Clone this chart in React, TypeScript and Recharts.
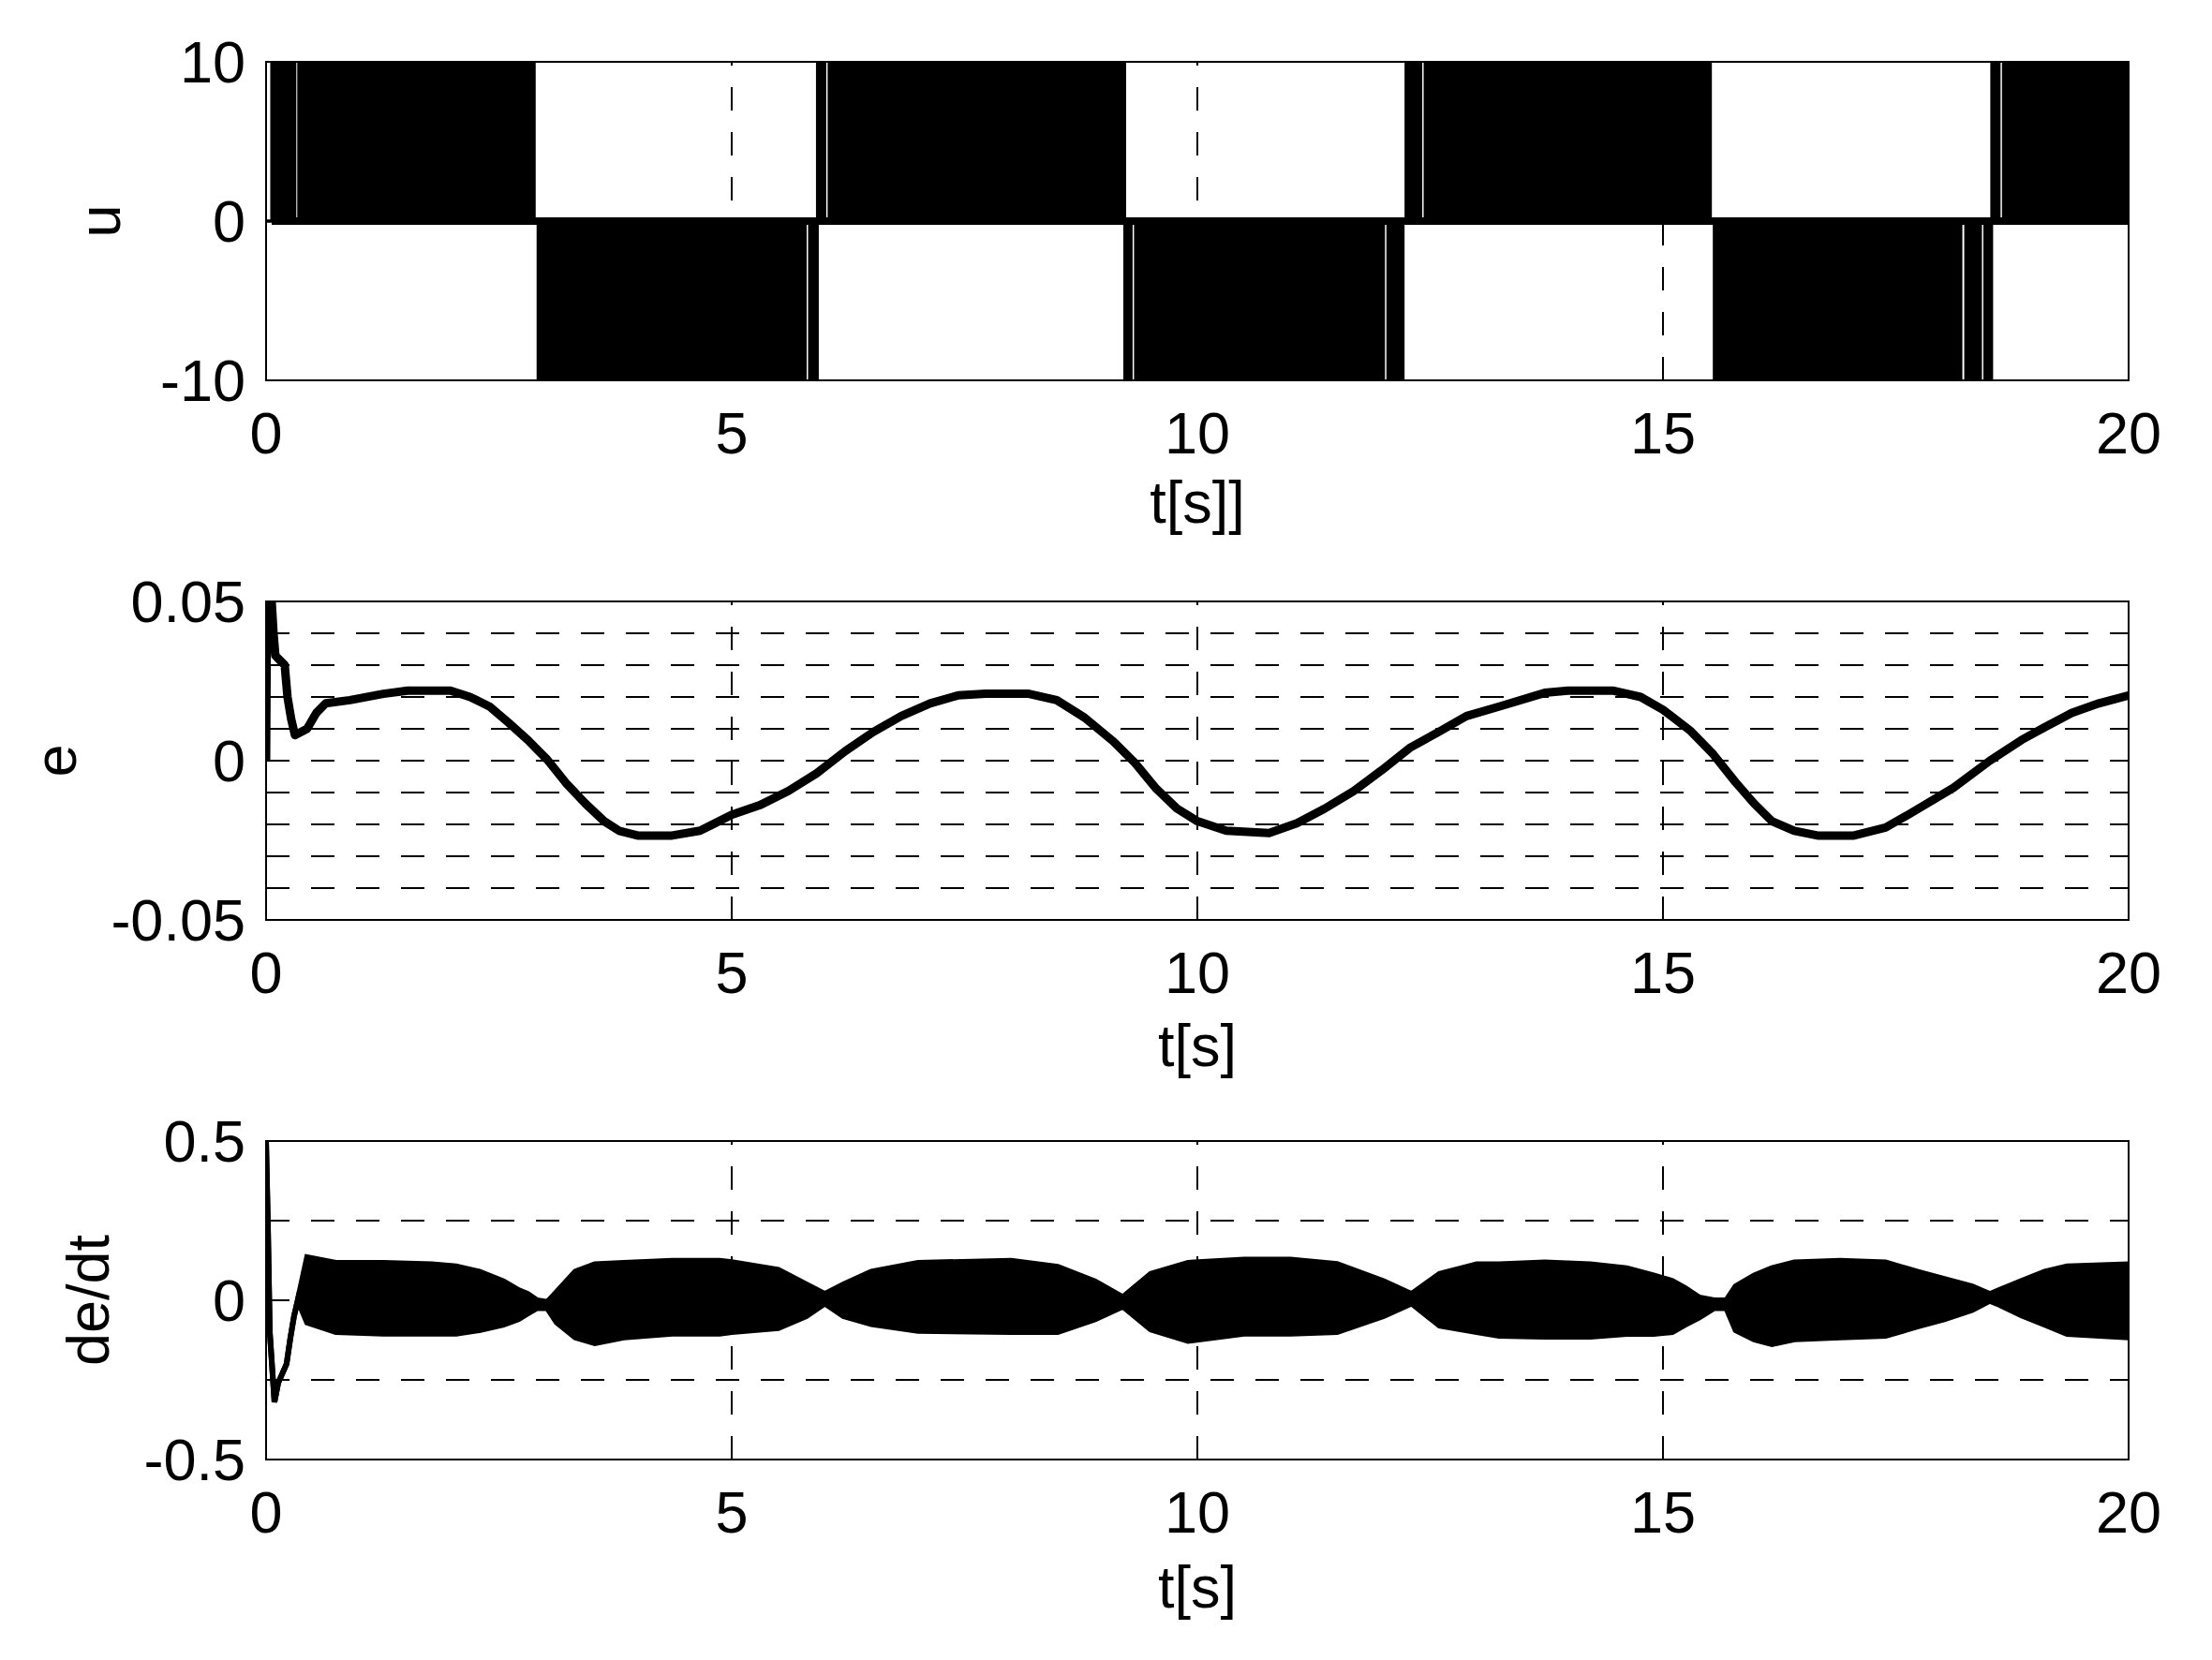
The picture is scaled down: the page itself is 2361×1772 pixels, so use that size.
import React from "react";
import {
  ComposedChart,
  Area,
  Line,
  XAxis,
  YAxis,
  ReferenceLine,
  ReferenceArea,
} from "recharts";

// shared time axis
const timeTicks = [0, 5, 10, 15, 20];
const timeGrid = [5, 10, 15];

// u: chattering control, drawn as the band it fills (step after each switch)
const uTime = [
  0, 0.06, 0.31, 0.35, 2.88, 2.92, 5.79, 5.835, 5.92, 6.0, 6.045, 9.22, 9.29,
  9.335, 12.0, 12.045, 12.21, 12.24, 12.4, 12.445, 15.51, 15.55, 18.2, 18.25,
  18.41, 18.455, 18.53, 18.61, 18.655, 20,
];
const uLow = [
  0, 0, 0, 0, 0, -10, 0, -10, 0, 0, 0, -10, 0, -10, 0, -10, 0, 0, 0, 0, 0, -10,
  0, -10, 0, -10, 0, 0, 0, 0,
];
const uHigh = [
  0, 10, 0, 10, 0, 0, 0, 0, 10, 0, 10, 0, 0, 0, 0, 0, 0, 10, 0, 10, 0, 0, 0, 0,
  0, 0, 10, 0, 10, 10,
];
const uTicks = [-10, 0, 10];

// e: tracking error
const eTime = [
  0, 0.01, 0.06, 0.08, 0.1, 0.2, 0.23, 0.27, 0.31, 0.44, 0.54, 0.64, 0.9, 1.26,
  1.52, 1.98, 2.19, 2.4, 2.6, 2.81, 3.02, 3.22, 3.43, 3.63, 3.79, 3.99, 4.36,
  4.66, 5.0, 5.3, 5.61, 5.91, 6.22, 6.52, 6.82, 7.13, 7.43, 7.73, 8.19, 8.49,
  8.79, 9.1, 9.33, 9.55, 9.78, 10.0, 10.31, 10.77, 11.07, 11.37, 11.68, 11.98,
  12.28, 12.59, 12.89, 13.24, 13.73, 13.98, 14.46, 14.76, 15.0, 15.29, 15.54,
  15.78, 15.98, 16.17, 16.41, 16.66, 17.05, 17.39, 17.63, 18.12, 18.51, 18.85,
  19.1, 19.39, 19.68, 20,
];
const eValue = [
  0, 0.05, 0.05, 0.04, 0.033, 0.03, 0.02, 0.013, 0.008, 0.01, 0.015, 0.018,
  0.019, 0.021, 0.022, 0.022, 0.02, 0.017, 0.012, 0.0065, 0.0003, -0.007,
  -0.0135, -0.019, -0.022, -0.0235, -0.0235, -0.022, -0.017, -0.014, -0.0095,
  -0.004, 0.003, 0.009, 0.014, 0.018, 0.0205, 0.021, 0.021, 0.019, 0.0135,
  0.006, -0.0007, -0.0085, -0.015, -0.019, -0.022, -0.0227, -0.0196, -0.015,
  -0.0095, -0.003, 0.004, 0.009, 0.014, 0.017, 0.0213, 0.022, 0.022, 0.02,
  0.016, 0.0095, 0.002, -0.0068, -0.0135, -0.019, -0.022, -0.0235, -0.0235,
  -0.021, -0.017, -0.0085, 0, 0.0065, 0.0105, 0.015, 0.018, 0.0205,
];
const eTicks = [-0.05, 0, 0.05];
const eGrid = [-0.04, -0.03, -0.02, -0.01, 0, 0.01, 0.02, 0.03, 0.04];

// de/dt: envelope of the fast oscillation (high / low), single line at the start
const deTime = [
  0, 0.02, 0.04, 0.09, 0.13, 0.22, 0.26, 0.3, 0.34, 0.44, 0.75, 1.26, 1.78, 2.04,
  2.29, 2.55, 2.71, 2.81, 2.91, 3.02, 3.12, 3.32, 3.53, 3.84, 4.36, 4.87, 5.0,
  5.5, 5.8, 6.0, 6.2, 6.5, 7.0, 8.0, 8.5, 8.9, 9.2, 9.5, 9.9, 10.5, 11.0, 11.5,
  12.0, 12.3, 12.6, 13.0, 13.24, 13.73, 14.22, 14.61, 14.9, 15.1, 15.24, 15.39,
  15.55, 15.68, 15.78, 15.98, 16.17, 16.41, 16.9, 17.39, 17.73, 18.02, 18.32,
  18.51, 18.61, 18.85, 19.1, 19.34, 20,
];
const deHigh = [
  0.5, 0.23, -0.1, -0.32, -0.26, -0.2, -0.12, -0.05, 0, 0.135, 0.118, 0.118,
  0.113, 0.107, 0.09, 0.06, 0.032, 0.02, 0, -0.005, 0.026, 0.09, 0.113, 0.118,
  0.124, 0.124, 0.12, 0.096, 0.05, 0.02, 0.05, 0.09, 0.118, 0.124, 0.105, 0.06,
  0.01, 0.083, 0.118, 0.128, 0.128, 0.114, 0.06, 0.02, 0.083, 0.113, 0.113,
  0.119, 0.113, 0.101, 0.078, 0.061, 0.038, 0.009, 0, 0, 0.044, 0.078, 0.101,
  0.119, 0.124, 0.119, 0.09, 0.067, 0.044, 0.02, 0.032, 0.061, 0.09, 0.107,
  0.113,
];
const deLow = [
  0.5, 0.23, -0.1, -0.32, -0.26, -0.2, -0.12, -0.05, 0, -0.07, -0.1, -0.105,
  -0.105, -0.105, -0.094, -0.077, -0.06, -0.042, -0.025, -0.025, -0.07, -0.117,
  -0.135, -0.117, -0.105, -0.105, -0.1, -0.088, -0.05, -0.01, -0.05, -0.075,
  -0.096, -0.1, -0.1, -0.06, -0.02, -0.092, -0.128, -0.105, -0.105, -0.1,
  -0.05, -0.01, -0.08, -0.1, -0.112, -0.115, -0.115, -0.106, -0.106, -0.1,
  -0.077, -0.054, -0.025, -0.025, -0.094, -0.123, -0.138, -0.123, -0.117,
  -0.112, -0.083, -0.06, -0.031, -0.002, -0.014, -0.048, -0.077, -0.106,
  -0.117,
];
const deTicks = [-0.5, 0, 0.5];
const deGrid = [-0.25, 0, 0.25];

const uData = uTime.map((t, i) => ({ t, u: [uLow[i], uHigh[i]] }));
const eData = eTime.map((t, i) => ({ t, e: eValue[i] }));
const deData = deTime.map((t, i) => ({ t, de: [deLow[i], deHigh[i]] }));

const FONT = '"Liberation Sans", Arial, Helvetica, sans-serif';
const W = 2361;
const CHART_H = 576;
const PLOT_TOP = 66;
const PLOT_H = 340;
const DASH = "25 23";
const tickStyle = { fill: "#000", fontSize: 63, fontFamily: FONT };

const Panel = ({
  top,
  data,
  domain,
  ticks,
  hGrid,
  children,
}: {
  top: number;
  data: any[];
  domain: [number, number];
  ticks: number[];
  hGrid: number[];
  children: React.ReactNode;
}) => (
  <div style={{ position: "absolute", left: 0, top, width: W, height: CHART_H }}>
    <ComposedChart
      width={W}
      height={CHART_H}
      data={data}
      margin={{ top: PLOT_TOP, right: 89, left: 84, bottom: CHART_H - PLOT_TOP - PLOT_H - 80 }}
    >
      <XAxis
        dataKey="t"
        type="number"
        domain={[0, 20]}
        ticks={timeTicks}
        interval={0}
        allowDataOverflow
        axisLine={false}
        tickLine={false}
        tickSize={0}
        tickMargin={33}
        height={80}
        tick={tickStyle}
      />
      <YAxis
        type="number"
        domain={domain}
        ticks={ticks}
        interval={0}
        allowDataOverflow
        axisLine={false}
        tickLine={false}
        tickSize={0}
        tickMargin={22}
        width={200}
        tick={tickStyle}
      />
      {timeGrid.map((x) => (
        <ReferenceLine key={`v${x}`} x={x} stroke="#000" strokeWidth={2} strokeDasharray={DASH} />
      ))}
      {hGrid.map((y) => (
        <ReferenceLine key={`h${y}`} y={y} stroke="#000" strokeWidth={2} strokeDasharray={DASH} />
      ))}
      <ReferenceArea
        x1={0}
        x2={20}
        y1={domain[0]}
        y2={domain[1]}
        fill="none"
        fillOpacity={0}
        stroke="#000"
        strokeWidth={2}
      />
      {children}
    </ComposedChart>
  </div>
);

const textBase: React.CSSProperties = {
  position: "absolute",
  fontFamily: FONT,
  fontSize: 63,
  lineHeight: 1,
  color: "#000",
  whiteSpace: "nowrap",
  transform: "translate(-50%, -50%)",
};

const YLabel = ({ x, y, text }: { x: number; y: number; text: string }) => (
  <div style={{ ...textBase, left: x, top: y, transform: "translate(-50%, -50%) rotate(-90deg)" }}>
    {text}
  </div>
);

const XLabel = ({ y, text }: { y: number; text: string }) => (
  <div style={{ ...textBase, left: 1278, top: y }}>{text}</div>
);

export default function App() {
  const tops = [0, 576, 1152];
  return (
    <div
      style={{
        position: "absolute",
        left: 0,
        top: 0,
        width: W,
        height: 1772,
        background: "#fff",
        overflow: "hidden",
      }}
    >
      <Panel top={tops[0]} data={uData} domain={[-10, 10]} ticks={uTicks} hGrid={[]}>
        <ReferenceLine
          segment={[
            { x: uTime[1], y: 0 },
            { x: uTime[uTime.length - 1], y: 0 },
          ]}
          stroke="#000"
          strokeWidth={8}
        />
        <Area
          dataKey="u"
          type="stepAfter"
          stroke="#000"
          strokeWidth={3}
          fill="#000"
          fillOpacity={1}
          dot={false}
          activeDot={false}
          isAnimationActive={false}
        />
      </Panel>
      <Panel top={tops[1]} data={eData} domain={[-0.05, 0.05]} ticks={eTicks} hGrid={eGrid}>
        <Line
          dataKey="e"
          type="linear"
          stroke="#000"
          strokeWidth={9}
          strokeLinejoin="round"
          dot={false}
          activeDot={false}
          isAnimationActive={false}
        />
      </Panel>
      <Panel top={tops[2]} data={deData} domain={[-0.5, 0.5]} ticks={deTicks} hGrid={deGrid}>
        <Area
          dataKey="de"
          type="linear"
          stroke="#000"
          strokeWidth={6}
          fill="#000"
          fillOpacity={1}
          dot={false}
          activeDot={false}
          isAnimationActive={false}
        />
      </Panel>
      <YLabel x={106} y={236} text="u" />
      <YLabel x={59} y={812} text="e" />
      <YLabel x={94} y={1388} text="de/dt" />
      <XLabel y={536} text="t[s]]" />
      <XLabel y={1116} text="t[s]" />
      <XLabel y={1694} text="t[s]" />
    </div>
  );
}
